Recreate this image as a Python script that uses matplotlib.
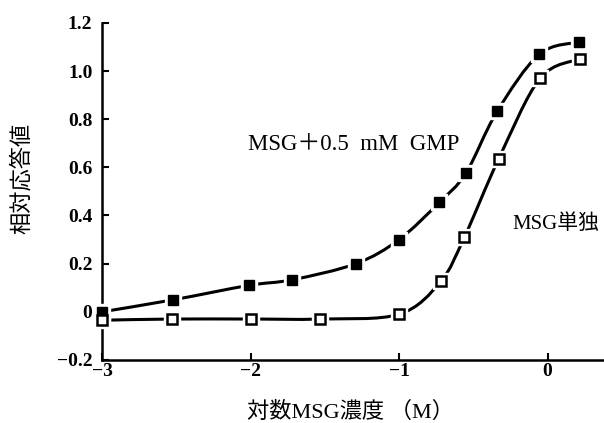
import matplotlib.pyplot as plt
from matplotlib.path import Path
from matplotlib.patches import PathPatch

# log MSG concentration vs relative response
x_gmp = [-3.0, -2.52, -2.01, -1.72, -1.29, -1.0, -0.73, -0.55, -0.34, -0.055, 0.215]
y_gmp = [0.0, 0.05, 0.11, 0.133, 0.20, 0.30, 0.454, 0.576, 0.832, 1.07, 1.12]

x_msg = [-3.0, -2.53, -2.0, -1.53, -1.0, -0.72, -0.56, -0.33, -0.05, 0.22]
y_msg = [-0.035, -0.03, -0.03, -0.03, -0.01, 0.126, 0.31, 0.634, 0.97, 1.05]

yticks = [-0.2, 0, 0.2, 0.4, 0.6, 0.8, 1.0, 1.2]
ytick_labels = ["\u22120.2", "0", "0.2", "0.4", "0.6", "0.8", "1.0", "1.2"]
xticks = [-3, -2, -1, 0]
xtick_labels = ["\u22123", "\u22122", "\u22121", "0"]

jp = ["Liberation Serif", "Noto Sans CJK JP"]


def smooth_path(xs, ys):
    # catmull-rom segments turned into cubic bezier pieces
    pts = list(zip(xs, ys))
    verts = [pts[0]]
    codes = [Path.MOVETO]
    for i in range(len(pts) - 1):
        p0 = pts[i - 1] if i > 0 else pts[i]
        p1 = pts[i]
        p2 = pts[i + 1]
        p3 = pts[i + 2] if i + 2 < len(pts) else pts[i + 1]
        c1 = (p1[0] + (p2[0] - p0[0]) / 6, p1[1] + (p2[1] - p0[1]) / 6)
        c2 = (p2[0] - (p3[0] - p1[0]) / 6, p2[1] - (p3[1] - p1[1]) / 6)
        verts += [c1, c2, p2]
        codes += [Path.CURVE4] * 3
    return Path(verts, codes)


fig = plt.figure(figsize=(6.04, 4.23), dpi=100)
ax = fig.add_axes([0.169, 0.149, 0.831, 0.797])

for xs, ys in [(x_gmp, y_gmp), (x_msg, y_msg)]:
    ax.add_patch(PathPatch(smooth_path(xs, ys), facecolor="none",
                           edgecolor="black", linewidth=2.2, clip_on=False))

# white halo so the line stops short of each marker
ax.plot(x_gmp, y_gmp, "s", color="white", markersize=11.5, clip_on=False, zorder=3)
ax.plot(x_msg, y_msg, "s", color="white", markersize=11, clip_on=False, zorder=3)
ax.plot(x_gmp, y_gmp, "s", color="black", markersize=7.5, clip_on=False, zorder=4)
ax.plot(x_msg, y_msg, "s", markerfacecolor="white", markeredgecolor="black",
        markeredgewidth=1.8, markersize=6.5, clip_on=False, zorder=5)

ax.text(-2.015, 0.694, "MSG＋0.5  mM  GMP", fontsize=16.5, family=jp,
        va="center", ha="left")
ax.text(-0.237, 0.366, "MSG単独", fontsize=15, family=jp, va="center", ha="left")

ax.set_xlim(-3, 0.38)
ax.set_ylim(-0.2, 1.2)
ax.set_xticks(xticks)
ax.set_xticklabels(xtick_labels, fontsize=14, fontweight="bold", family="Liberation Serif")
ax.set_yticks(yticks)
ax.set_yticklabels(ytick_labels, fontsize=14, fontweight="bold", family="Liberation Serif")
ax.tick_params(direction="in", length=5, width=1.5)
ax.tick_params(axis="y", pad=7)
ax.tick_params(axis="x", pad=2)

ax.spines["top"].set_visible(False)
ax.spines["right"].set_visible(False)
ax.spines["left"].set_linewidth(1.8)
ax.spines["bottom"].set_linewidth(1.8)

ax.set_xlabel("対数MSG濃度 （M）", fontsize=16, family=jp)
ax.set_ylabel("相対応答値", fontsize=16, family=["Noto Sans CJK JP"])
ax.xaxis.set_label_coords(0.494, -0.125)
ax.yaxis.set_label_coords(-0.137, 0.54)

fig.savefig("out.png", dpi=100)
